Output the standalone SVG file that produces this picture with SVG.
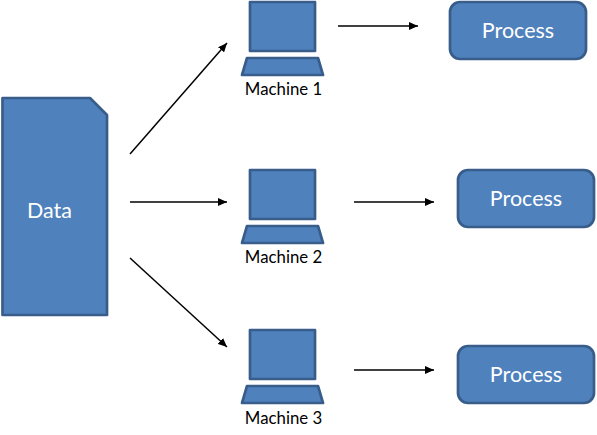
<svg xmlns="http://www.w3.org/2000/svg" width="597" height="435" viewBox="0 0 597 435">
<style>
.s{fill:#4f81bd;stroke:#385d8a;stroke-width:2.700;stroke-linejoin:round}
.l{font-family:Lato,"Open Sans",sans-serif;font-size:16.800px;fill:#000;text-anchor:middle}
.w{font-family:Lato,"Open Sans",sans-serif;font-size:21.500px;fill:#fff;text-anchor:middle}
.c{stroke:#000;stroke-width:1.5;fill:none;marker-end:url(#a)}
</style>
<defs>
<marker id="a" markerUnits="userSpaceOnUse" markerWidth="10" markerHeight="8" refX="9" refY="4" orient="auto"><path d="M0 0L9 4L0 8Z" fill="#000"/></marker>
<g id="laptop"><rect class="s" x="250" y="2" width="65" height="49"/><path class="s" d="M247 58H318L323 75H242Z"/></g>
</defs>
<g id="connectors">
<path class="c" d="M130 154L227 43"/><path class="c" d="M130 202H227"/><path class="c" d="M130 258L227 347"/>
<path class="c" d="M338 26H418"/><path class="c" d="M354 202H434"/><path class="c" d="M354 370H434"/>
</g>
<g id="data"><path class="s" d="M2.500 98H90L107 115V315H2.500Z"/><text class="w" x="49.500" y="218">Data</text></g>
<g id="machine1"><use href="#laptop"/><text class="l" x="283.500" y="95">Machine 1</text></g>
<g id="machine2"><use href="#laptop" y="168"/><text class="l" x="283.500" y="263">Machine 2</text></g>
<g id="machine3"><use href="#laptop" y="328"/><text class="l" x="283.500" y="424">Machine 3</text></g>
<g id="process1"><rect class="s" x="450" y="2" width="136" height="57" rx="10"/><text class="w" x="518" y="38">Process</text></g>
<g id="process2"><rect class="s" x="458" y="170" width="136" height="57" rx="10"/><text class="w" x="526" y="206">Process</text></g>
<g id="process3"><rect class="s" x="458" y="346" width="136" height="57" rx="10"/><text class="w" x="526" y="382">Process</text></g>
</svg>
